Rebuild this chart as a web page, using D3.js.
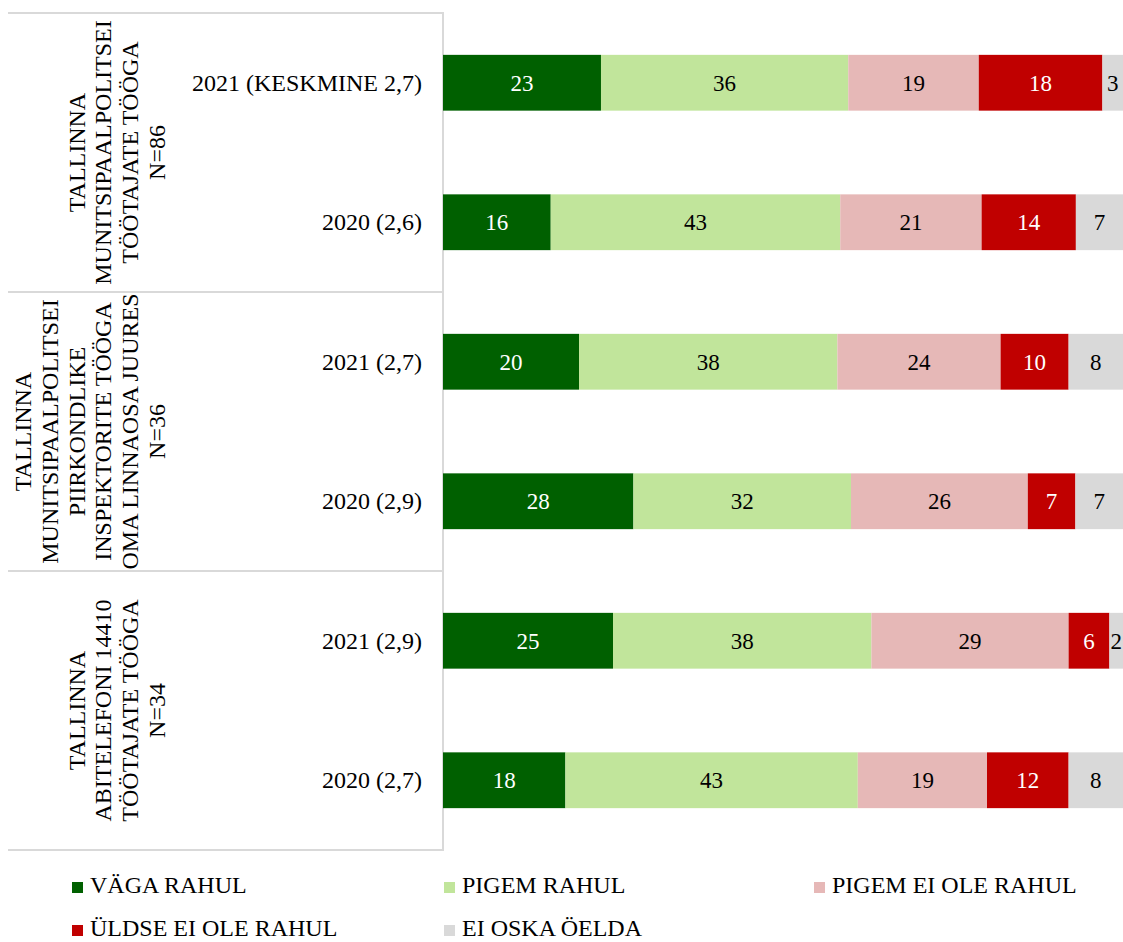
<!DOCTYPE html>
<html>
<head>
<meta charset="utf-8">
<script src="https://cdn.jsdelivr.net/npm/d3@7"></script>
<style>
  html, body { margin: 0; padding: 0; background: #fff; }
  svg { display: block; font-family: "Liberation Serif", "Times New Roman", serif; }
</style>
</head>
<body>
<svg id="chart" width="1123" height="942"></svg>
<script>
// ---- data ----
const categories = ["2021 (KESKMINE 2,7)", "2020 (2,6)", "2021 (2,7)", "2020 (2,9)", "2021 (2,9)", "2020 (2,7)"];
const seriesNames = ["VÄGA RAHUL", "PIGEM RAHUL", "PIGEM EI OLE RAHUL", "ÜLDSE EI OLE RAHUL", "EI OSKA ÖELDA"];
const vagaRahul   = [23, 16, 20, 28, 25, 18];
const pigemRahul  = [36, 43, 38, 32, 38, 43];
const pigemEiOle  = [19, 21, 24, 26, 29, 19];
const uldseEiOle  = [18, 14, 10, 7, 6, 12];
const eiOskaOelda = [3, 7, 8, 7, 2, 8];
const groupLabels = [
  ["TALLINNA", "MUNITSIPAALPOLITSEI", "TÖÖTAJATE TÖÖGA", "N=86"],
  ["TALLINNA", "MUNITSIPAALPOLITSEI", "PIIRKONDLIKE", "INSPEKTORITE TÖÖGA", "OMA LINNAOSA JUURES", "N=36"],
  ["TALLINNA", "ABITELEFONI 14410", "TÖÖTAJATE TÖÖGA", "N=34"]
];
const colors = ["#006000", "#c1e59b", "#e6b8b7", "#c00000", "#d9d9d9"];
const labelColors = ["#ffffff", "#000000", "#000000", "#ffffff", "#000000"];

const seriesValues = [vagaRahul, pigemRahul, pigemEiOle, uldseEiOle, eiOskaOelda];
const table = categories.map((c, i) => {
  const row = { category: c };
  seriesNames.forEach((s, j) => row[s] = seriesValues[j][i]);
  return row;
});

// ---- layout ----
const svg = d3.select("#chart");
const plotLeft = 443, plotRight = 1123, plotTop = 13, plotBottom = 850, tableLeft = 8;

const x = d3.scaleLinear().domain([0, 1]).range([plotLeft, plotRight]);
const y = d3.scaleBand().domain(categories).range([plotTop, plotBottom])
  .paddingInner(0.6).paddingOuter(0.3);

const stack = d3.stack().keys(seriesNames).offset(d3.stackOffsetExpand);
const stacked = stack(table);

// ---- table lines ----
const gridColor = "#d9d9d9";
const step = y.step();
const groupSizes = [2, 2, 2];
let boundaries = [plotTop];
let acc = 0;
groupSizes.forEach(n => { acc += n; boundaries.push(plotTop + acc * step); });

svg.append("g").selectAll("line").data(boundaries).join("line")
  .attr("x1", tableLeft).attr("x2", plotLeft)
  .attr("y1", d => d).attr("y2", d => d)
  .attr("stroke", gridColor).attr("stroke-width", 2);
svg.append("line")
  .attr("x1", plotLeft).attr("x2", plotLeft)
  .attr("y1", plotTop - 1).attr("y2", plotBottom + 1)
  .attr("stroke", gridColor).attr("stroke-width", 2);

// ---- bars ----
const layers = svg.append("g").selectAll("g").data(stacked).join("g")
  .attr("fill", (d, i) => colors[i]);
layers.selectAll("rect").data(d => d).join("rect")
  .attr("x", d => x(d[0]))
  .attr("width", d => x(d[1]) - x(d[0]))
  .attr("y", d => y(d.data.category))
  .attr("height", y.bandwidth());

// ---- value labels ----
const lab = svg.append("g").attr("font-size", 23).attr("text-anchor", "middle");
stacked.forEach((layer, i) => {
  lab.selectAll(null).data(layer).join("text")
    .attr("x", d => (x(d[0]) + x(d[1])) / 2)
    .attr("y", d => y(d.data.category) + y.bandwidth() / 2 + 8)
    .attr("fill", labelColors[i])
    .text(d => d.data[layer.key]);
});

// ---- category labels ----
svg.append("g").attr("font-size", 24).attr("text-anchor", "end")
  .selectAll("text").data(categories).join("text")
  .attr("x", 422)
  .attr("y", d => y(d) + y.bandwidth() / 2 + 8)
  .attr("fill", "#000")
  .text(d => d);

// ---- group labels (rotated) ----
const lineGap = 26.8;
groupLabels.forEach((lines, g) => {
  const cy = (boundaries[g] + boundaries[g + 1]) / 2;
  const lastX = 157;
  const t = svg.append("text")
    .attr("font-size", 24)
    .attr("text-anchor", "middle")
    .attr("transform", `translate(0,${cy}) rotate(-90)`);
  lines.forEach((ln, k) => {
    const cx = lastX - (lines.length - 1 - k) * lineGap;
    t.append("tspan").attr("x", 0).attr("y", cx + 8).text(ln);
  });
});

// ---- legend ----
const legendPos = [[72, 886], [444, 886], [814, 886], [72, 929], [444, 929]];
const leg = svg.append("g").selectAll("g").data(seriesNames).join("g")
  .attr("transform", (d, i) => `translate(${legendPos[i][0]},${legendPos[i][1]})`);
leg.append("rect").attr("x", 0).attr("y", -4).attr("width", 11).attr("height", 11)
  .attr("fill", (d, i) => colors[i]);
leg.append("text").attr("x", 18).attr("y", 7).attr("font-size", 24).attr("fill", "#000")
  .text(d => d);
</script>
</body>
</html>
